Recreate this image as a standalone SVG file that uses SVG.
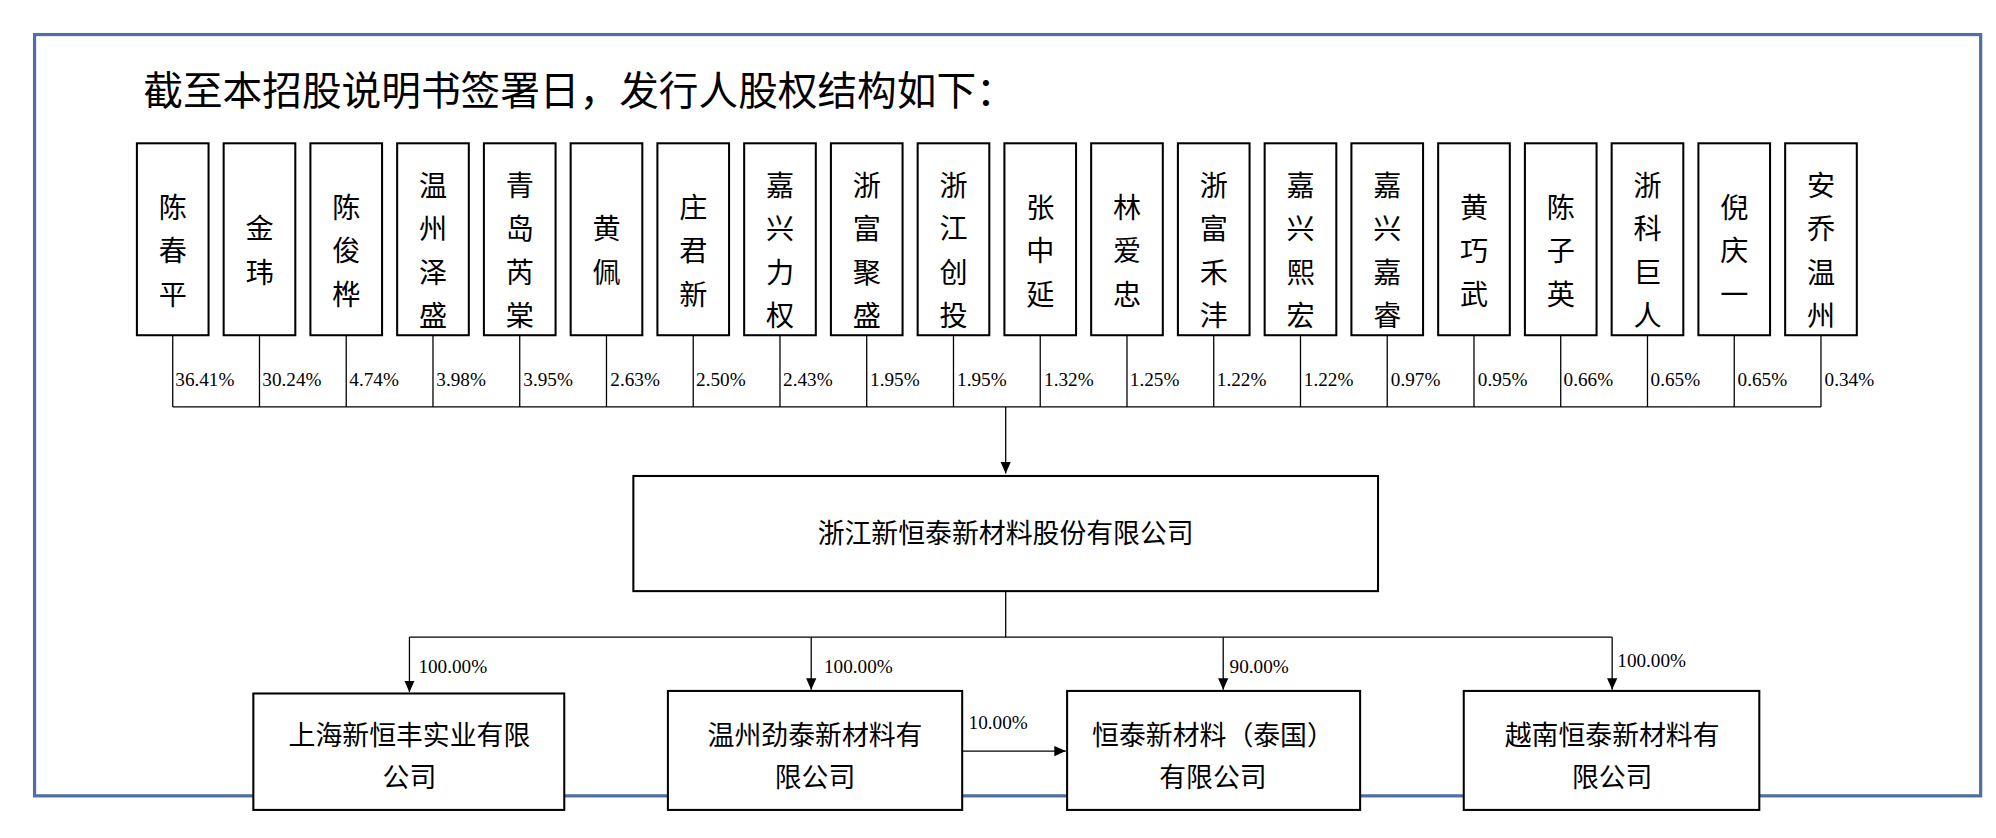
<svg xmlns="http://www.w3.org/2000/svg" width="1996" height="838" viewBox="0 0 1996 838">
<defs>
<style>
.b{fill:#fff;stroke:#000;stroke-width:1.6}
.l{fill:none;stroke:#000;stroke-width:1}
.v{font-family:"Liberation Serif","Noto Sans CJK SC",serif;font-size:22px;text-anchor:middle;fill:#000}
.p{font-family:"Liberation Serif","Noto Sans CJK SC",serif;font-size:15px;fill:#000}
.c{font-family:"Liberation Serif","Noto Sans CJK SC",serif;font-size:21px;text-anchor:middle;fill:#000}
</style>
<marker id="a" markerWidth="10" markerHeight="10" refX="9" refY="5" orient="auto" markerUnits="userSpaceOnUse"><path d="M0,1 L9,5 L0,9 Z" fill="#000"/></marker>
</defs>
<rect width="1996" height="838" fill="#fff"/>
<g transform="scale(1.2795)">
<rect x="27" y="27" width="1521" height="595" fill="none" stroke="#4f6fa0" stroke-width="2.5"/>
<text x="112" y="82" font-family="Liberation Serif,'Noto Sans CJK SC',serif" font-size="31" fill="#000">截至本招股说明书签署日，发行人股权结构如下：</text>
<g id="holders">
<g id="h1"><rect class="b" x="107" y="112" width="56" height="150"/><text class="v" x="135"><tspan x="135" y="170">陈</tspan><tspan x="135" dy="34">春</tspan><tspan x="135" dy="34">平</tspan></text></g>
<g id="h2"><rect class="b" x="174.8" y="112" width="56" height="150"/><text class="v"><tspan x="202.8" y="187">金</tspan><tspan x="202.8" dy="34">玮</tspan></text></g>
<g id="h3"><rect class="b" x="242.6" y="112" width="56" height="150"/><text class="v"><tspan x="270.6" y="170">陈</tspan><tspan x="270.6" dy="34">俊</tspan><tspan x="270.6" dy="34">桦</tspan></text></g>
<g id="h4"><rect class="b" x="310.4" y="112" width="56" height="150"/><text class="v"><tspan x="338.4" y="153">温</tspan><tspan x="338.4" dy="34">州</tspan><tspan x="338.4" dy="34">泽</tspan><tspan x="338.4" dy="34">盛</tspan></text></g>
<g id="h5"><rect class="b" x="378.2" y="112" width="56" height="150"/><text class="v"><tspan x="406.2" y="153">青</tspan><tspan x="406.2" dy="34">岛</tspan><tspan x="406.2" dy="34">芮</tspan><tspan x="406.2" dy="34">棠</tspan></text></g>
<g id="h6"><rect class="b" x="446" y="112" width="56" height="150"/><text class="v"><tspan x="474" y="187">黄</tspan><tspan x="474" dy="34">佩</tspan></text></g>
<g id="h7"><rect class="b" x="513.8" y="112" width="56" height="150"/><text class="v"><tspan x="541.8" y="170">庄</tspan><tspan x="541.8" dy="34">君</tspan><tspan x="541.8" dy="34">新</tspan></text></g>
<g id="h8"><rect class="b" x="581.6" y="112" width="56" height="150"/><text class="v"><tspan x="609.6" y="153">嘉</tspan><tspan x="609.6" dy="34">兴</tspan><tspan x="609.6" dy="34">力</tspan><tspan x="609.6" dy="34">权</tspan></text></g>
<g id="h9"><rect class="b" x="649.4" y="112" width="56" height="150"/><text class="v"><tspan x="677.4" y="153">浙</tspan><tspan x="677.4" dy="34">富</tspan><tspan x="677.4" dy="34">聚</tspan><tspan x="677.4" dy="34">盛</tspan></text></g>
<g id="h10"><rect class="b" x="717.2" y="112" width="56" height="150"/><text class="v"><tspan x="745.2" y="153">浙</tspan><tspan x="745.2" dy="34">江</tspan><tspan x="745.2" dy="34">创</tspan><tspan x="745.2" dy="34">投</tspan></text></g>
<g id="h11"><rect class="b" x="785" y="112" width="56" height="150"/><text class="v"><tspan x="813" y="170">张</tspan><tspan x="813" dy="34">中</tspan><tspan x="813" dy="34">延</tspan></text></g>
<g id="h12"><rect class="b" x="852.8" y="112" width="56" height="150"/><text class="v"><tspan x="880.8" y="170">林</tspan><tspan x="880.8" dy="34">爱</tspan><tspan x="880.8" dy="34">忠</tspan></text></g>
<g id="h13"><rect class="b" x="920.6" y="112" width="56" height="150"/><text class="v"><tspan x="948.6" y="153">浙</tspan><tspan x="948.6" dy="34">富</tspan><tspan x="948.6" dy="34">禾</tspan><tspan x="948.6" dy="34">沣</tspan></text></g>
<g id="h14"><rect class="b" x="988.4" y="112" width="56" height="150"/><text class="v"><tspan x="1016.4" y="153">嘉</tspan><tspan x="1016.4" dy="34">兴</tspan><tspan x="1016.4" dy="34">熙</tspan><tspan x="1016.4" dy="34">宏</tspan></text></g>
<g id="h15"><rect class="b" x="1056.2" y="112" width="56" height="150"/><text class="v"><tspan x="1084.2" y="153">嘉</tspan><tspan x="1084.2" dy="34">兴</tspan><tspan x="1084.2" dy="34">嘉</tspan><tspan x="1084.2" dy="34">睿</tspan></text></g>
<g id="h16"><rect class="b" x="1124" y="112" width="56" height="150"/><text class="v"><tspan x="1152" y="170">黄</tspan><tspan x="1152" dy="34">巧</tspan><tspan x="1152" dy="34">武</tspan></text></g>
<g id="h17"><rect class="b" x="1191.8" y="112" width="56" height="150"/><text class="v"><tspan x="1219.8" y="170">陈</tspan><tspan x="1219.8" dy="34">子</tspan><tspan x="1219.8" dy="34">英</tspan></text></g>
<g id="h18"><rect class="b" x="1259.6" y="112" width="56" height="150"/><text class="v"><tspan x="1287.6" y="153">浙</tspan><tspan x="1287.6" dy="34">科</tspan><tspan x="1287.6" dy="34">巨</tspan><tspan x="1287.6" dy="34">人</tspan></text></g>
<g id="h19"><rect class="b" x="1327.4" y="112" width="56" height="150"/><text class="v"><tspan x="1355.4" y="170">倪</tspan><tspan x="1355.4" dy="34">庆</tspan><tspan x="1355.4" dy="34">一</tspan></text></g>
<g id="h20"><rect class="b" x="1395.2" y="112" width="56" height="150"/><text class="v"><tspan x="1423.2" y="153">安</tspan><tspan x="1423.2" dy="34">乔</tspan><tspan x="1423.2" dy="34">温</tspan><tspan x="1423.2" dy="34">州</tspan></text></g>
</g>
<g id="connectors">
<path class="l" d="M135,262V318M202.8,262V318M270.6,262V318M338.4,262V318M406.2,262V318M474,262V318M541.8,262V318M609.6,262V318M677.4,262V318M745.2,262V318M813,262V318M880.8,262V318M948.6,262V318M1016.4,262V318M1084.2,262V318M1152,262V318M1219.8,262V318M1287.6,262V318M1355.4,262V318M1423.2,262V318M135,318H1423.2"/>
<path class="l" d="M786,318V370" marker-end="url(#a)"/>
<path class="l" d="M786,462V498M320,498H1260"/>
<path class="l" d="M320,498V541" marker-end="url(#a)"/>
<path class="l" d="M634,498V539" marker-end="url(#a)"/>
<path class="l" d="M956,498V539" marker-end="url(#a)"/>
<path class="l" d="M1260,498V539" marker-end="url(#a)"/>
<path class="l" d="M752,587H833" marker-end="url(#a)" stroke-width="1.4"/>
<g class="p">
<text x="137" y="302">36.41%</text><text x="205" y="302">30.24%</text><text x="273" y="302">4.74%</text><text x="341" y="302">3.98%</text><text x="409" y="302">3.95%</text><text x="477" y="302">2.63%</text><text x="544" y="302">2.50%</text><text x="612" y="302">2.43%</text><text x="680" y="302">1.95%</text><text x="748" y="302">1.95%</text><text x="816" y="302">1.32%</text><text x="883" y="302">1.25%</text><text x="951" y="302">1.22%</text><text x="1019" y="302">1.22%</text><text x="1087" y="302">0.97%</text><text x="1155" y="302">0.95%</text><text x="1222" y="302">0.66%</text><text x="1290" y="302">0.65%</text><text x="1358" y="302">0.65%</text><text x="1426" y="302">0.34%</text>
<text x="327" y="526">100.00%</text><text x="644" y="526">100.00%</text><text x="961" y="526">90.00%</text><text x="1264" y="521">100.00%</text><text x="757" y="570">10.00%</text>
</g>
</g>
<g id="issuer"><rect class="b" x="495" y="372" width="582" height="90"/><text class="c" x="786" y="424">浙江新恒泰新材料股份有限公司</text></g>
<g id="sub1"><rect class="b" x="198" y="542" width="243" height="91"/><text class="c"><tspan x="320" y="582">上海新恒丰实业有限</tspan><tspan x="320" dy="33">公司</tspan></text></g>
<g id="sub2"><rect class="b" x="522" y="540" width="230" height="93"/><text class="c"><tspan x="637" y="582">温州劲泰新材料有</tspan><tspan x="637" dy="33">限公司</tspan></text></g>
<g id="sub3"><rect class="b" x="834" y="540" width="229" height="93"/><text class="c"><tspan x="948" y="582">恒泰新材料（泰国）</tspan><tspan x="948" dy="33">有限公司</tspan></text></g>
<g id="sub4"><rect class="b" x="1144" y="540" width="231" height="93"/><text class="c"><tspan x="1260" y="582">越南恒泰新材料有</tspan><tspan x="1260" dy="33">限公司</tspan></text></g>
</g>
</svg>
